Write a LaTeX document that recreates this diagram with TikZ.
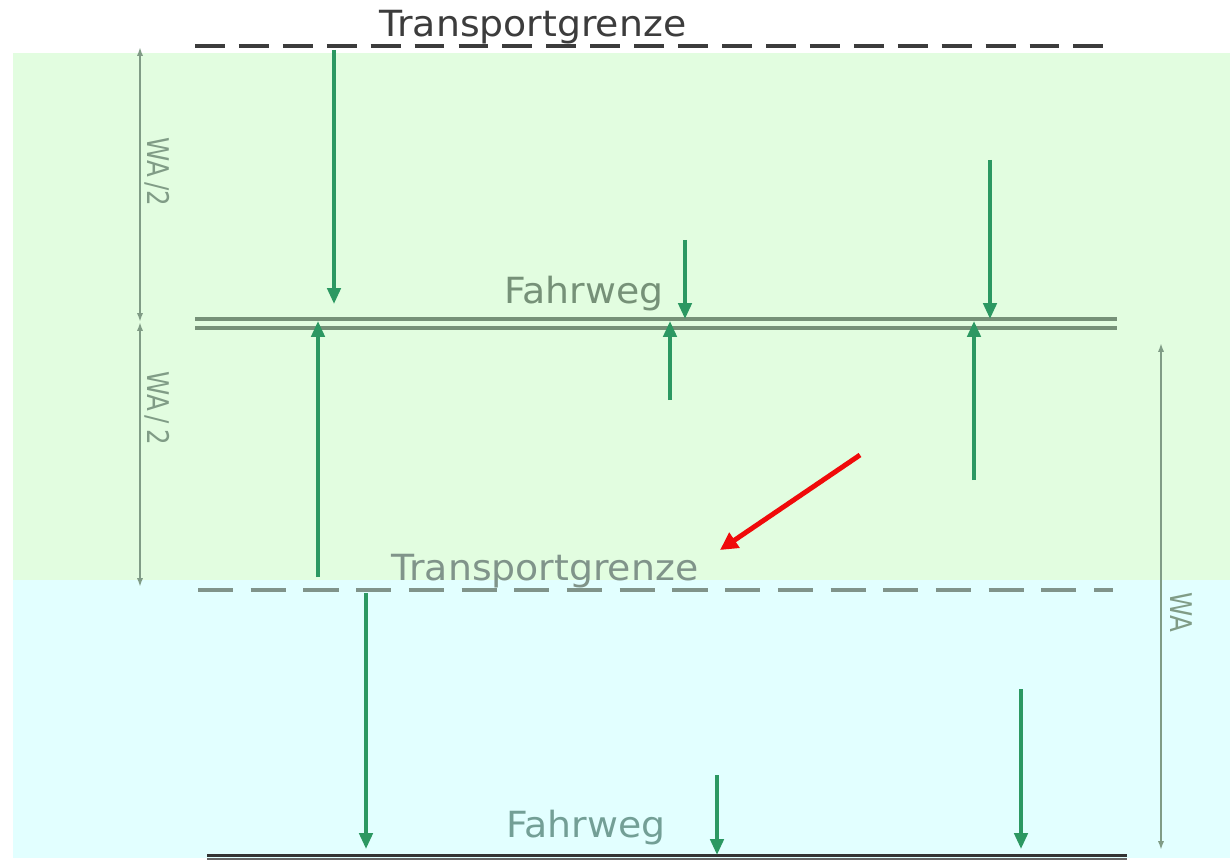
\documentclass[tikz,border=0pt]{standalone}
\usepackage{fontspec}
\setmainfont{DejaVu Sans}
\newfontfamily\labfont[FakeStretch=1.05]{DejaVu Sans}
\newfontfamily\dimfont[FakeStretch=0.82]{DejaVu Sans}
\usetikzlibrary{arrows.meta}
\definecolor{zoneA}{RGB}{226,253,224}
\definecolor{zoneB}{RGB}{226,255,255}
\definecolor{loadgreen}{RGB}{44,152,98}
\definecolor{dimgray}{RGB}{128,156,134}
\definecolor{roadgray}{RGB}{118,145,120}
\definecolor{limitdark}{RGB}{60,60,60}
\definecolor{limitgray}{RGB}{128,148,138}
\definecolor{hintred}{RGB}{240,10,10}
\tikzset{
  x=0.02cm, y=-0.02cm,
  load/.style={draw=loadgreen, line width=2.1pt, -{Triangle[length=9pt,width=7.5pt]}},
  hint/.style={draw=hintred, line width=2.8pt, -{Triangle[length=10pt,width=10pt]}},
  dimline/.style={draw=dimgray, line width=1.1pt, {Latex[length=5pt,width=3.5pt]}-{Latex[length=5pt,width=3.5pt]}},
  lbl/.style={inner sep=0pt, anchor=base, font=\labfont\fontsize{20.5}{22}\selectfont},
  dimlbl/.style={inner sep=0pt, rotate=-90, text=dimgray, font=\dimfont\fontsize{17}{18}\selectfont},
  limitline/.style={line width=2.2pt, dash pattern=on 17pt off 8pt},
  roadline/.style={line width=1.9pt}
}
\begin{document}
\begin{tikzpicture}
% canvas and the two zones
\useasboundingbox (0,0) rectangle (1230,861);
\fill[white] (0,0) rectangle (1230,861);
\fill[zoneA] (13,53) rectangle (1230,580);
\fill[zoneB] (13,580) rectangle (1230,858);

% upper transport limit
\draw[limitline, draw=limitdark] (195,46) -- (1113,46);
\node[lbl, text=limitdark] (tg1) at (533,37) {Transportgrenze};

% upper roadway (double line)
\draw[roadline, draw=roadgray] (195,319) -- (1117,319);
\draw[roadline, draw=roadgray] (195,328) -- (1117,328);
\node[lbl, text=roadgray] (fw1) at (584,304) {Fahrweg};

% lower transport limit
\draw[limitline, draw=limitgray, line width=1.8pt, dash pattern=on 20pt off 10pt] (198,590) -- (1113,590);
\node[lbl, text=limitgray] (tg2) at (545,580) {Transportgrenze};

% lower roadway
\draw[line width=1.7pt, draw=black!80] (207,855) -- (1127,855);
\draw[line width=1pt, draw=black!60] (207,859) -- (1127,859);
\node[lbl, text=limitgray!90!cyan] (fw2) at (586,837) {Fahrweg};

% dimension chains
\coordinate (d1) at (140,47);
\coordinate (d2) at (140,322);
\coordinate (d3) at (140,587);
\draw[dimline] (d1) -- (d2);
\draw[dimline] (d2) -- (d3);
\node[dimlbl] (wa1) at (157,172) {WA\,/2};
\node[dimlbl] (wa2) at (157,408) {WA\,/\,2};
\coordinate (r1) at (1161,343);
\coordinate (r2) at (1161,850);
\draw[dimline] (r1) -- (r2);
\node[dimlbl] (wa3) at (1181,612) {WA};

% loads onto the upper roadway
\coordinate (a1s) at (334,50);  \coordinate (a1e) at (334,304);
\coordinate (a2s) at (685,240); \coordinate (a2e) at (685,319);
\coordinate (a3s) at (990,160); \coordinate (a3e) at (990,319);
\coordinate (b1s) at (318,577); \coordinate (b1e) at (318,321);
\coordinate (b2s) at (670,400); \coordinate (b2e) at (670,321);
\coordinate (b3s) at (974,480); \coordinate (b3e) at (974,321);
\draw[load] (a1s) -- (a1e);
\draw[load] (a2s) -- (a2e);
\draw[load] (a3s) -- (a3e);
\draw[load] (b1s) -- (b1e);
\draw[load] (b2s) -- (b2e);
\draw[load] (b3s) -- (b3e);

% loads onto the lower roadway
\coordinate (c1s) at (366,593); \coordinate (c1e) at (366,849);
\coordinate (c2s) at (717,775); \coordinate (c2e) at (717,855);
\coordinate (c3s) at (1021,689); \coordinate (c3e) at (1021,849);
\draw[load] (c1s) -- (c1e);
\draw[load] (c2s) -- (c2e);
\draw[load] (c3s) -- (c3e);

% pointer to the lower transport limit
\coordinate (h1) at (860,455);
\coordinate (h2) at (720,550);
\draw[hint] (h1) -- (h2);
\end{tikzpicture}
\end{document}
